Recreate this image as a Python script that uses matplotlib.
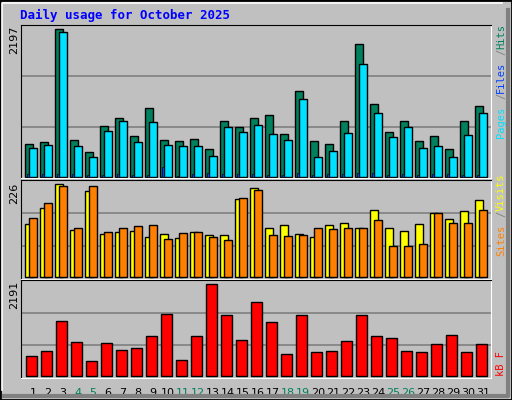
import numpy as np
import matplotlib
matplotlib.use('Agg')
import matplotlib.pyplot as plt
from matplotlib.patches import Rectangle

days = np.arange(1, 32)
weekend = [4, 5, 11, 12, 18, 19, 25, 26]

hits = [482, 512, 2197, 542, 363, 751, 870, 601, 1019, 542, 527, 557, 408, 825, 736, 870,
        915, 631, 1272, 527, 482, 825, 1973, 1079, 661, 825, 527, 601, 408, 825, 1049]
files = [423, 467, 2152, 452, 288, 676, 825, 512, 810, 467, 452, 452, 303, 736, 661, 765,
         631, 542, 1153, 288, 378, 646, 1675, 944, 587, 736, 423, 452, 288, 616, 944]
pages = [45, 45, 45, 45, 30, 30, 45, 30, 30, 140, 15, 45, 60, 45, 45, 45,
         30, 30, 50, 30, 45, 45, 60, 60, 30, 45, 30, 45, 45, 30, 30]
visits = [130, 167, 226, 113, 209, 104, 109, 111, 96, 104, 94, 109, 101, 101, 190, 216,
          118, 126, 104, 96, 126, 131, 118, 162, 118, 111, 128, 155, 141, 160, 187]
sites = [143, 179, 221, 120, 221, 109, 120, 123, 126, 91, 106, 109, 96, 89, 192, 211,
         101, 99, 101, 118, 116, 118, 118, 138, 74, 74, 79, 155, 131, 131, 162]
kbytes = [463, 583, 1303, 799, 344, 775, 607, 655, 943, 1471, 368, 943, 2191, 1447, 847, 1759,
          1279, 511, 1447, 559, 583, 823, 1447, 943, 895, 583, 559, 751, 967, 559, 751]

W, H = 512, 400
fig = plt.figure(figsize=(W / 100, H / 100), dpi=100, facecolor='#C0C0C0')

# frame / bevel
fig.patches.append(Rectangle((0, 0), 1, 1, transform=fig.transFigure, fill=False, edgecolor='black', lw=2))
fig.add_artist(plt.Line2D([2 / W, 2 / W, 1 - 10 / W], [10 / H, 1 - 3 / H, 1 - 3 / H], color='white', lw=1.2, transform=fig.transFigure))
fig.add_artist(plt.Line2D([4 / W, 1 - 4 / W, 1 - 4 / W], [4 / H, 4 / H, 1 - 10 / H], color='#808080', lw=3, transform=fig.transFigure))


def panel(top, bottom, ylim):
    x0, x1 = 20.7, 490.7
    ax = fig.add_axes([x0 / W, 1 - bottom / H, (x1 - x0) / W, (bottom - top) / H])
    ax.set_facecolor('#C0C0C0')
    ax.set_xlim(0.713, 32.05)
    ax.set_ylim(*ylim)
    for f in (1 / 3, 2 / 3):
        ax.plot([0, 1], [f, f], transform=ax.transAxes, color='#808080', lw=1.2, zorder=0)
    ax.set_xticks([])
    ax.set_yticks([])
    ax.spines['top'].set_color('black')
    ax.spines['left'].set_color('black')
    ax.spines['bottom'].set_color('white')
    ax.spines['right'].set_color('white')
    return ax


ax1 = panel(25, 178, (-19, 2261))
ax1.bar(days, hits, width=0.51, align='edge', color='#00805C', edgecolor='black', lw=1)
ax1.bar(days + 0.29, files, width=0.49, align='edge', color='#00E0FF', edgecolor='black', lw=1)
ax1.bar(days + 0.15, pages, width=0.13, align='edge', color='#0040FF', edgecolor='black', lw=0.5)

ax2 = panel(180, 279, (-5.6, 236.4))
ax2.bar(days + 0.02, visits, width=0.49, align='edge', color='#FFFF00', edgecolor='black', lw=1)
ax2.bar(days + 0.29, sites, width=0.49, align='edge', color='#FF8000', edgecolor='black', lw=1)

ax3 = panel(280, 378, (-55, 2294))
ax3.bar(days + 0.09, kbytes, width=0.69, align='edge', color='#FF0000', edgecolor='black', lw=1)

for d in days:
    ax3.text(d + 0.53, -0.1, str(d), transform=ax3.get_xaxis_transform(), ha='center', va='top',
             fontsize=8, color='#00805C' if d in weekend else 'black')

fig.text(20 / W, 1 - 15 / H, 'Daily usage for October 2025', color='#0000FF', fontsize=9,
         fontweight='bold', family='DejaVu Sans Mono', va='center')

fig.text(14 / W, 1 - 40 / H, str(max(hits)), rotation=90, fontsize=8, ha='center', va='center')
fig.text(14 / W, 1 - 193 / H, str(max(visits)), rotation=90, fontsize=8, ha='center', va='center')
fig.text(14 / W, 1 - 295 / H, str(max(kbytes)), rotation=90, fontsize=8, ha='center', va='center')

mono = dict(family='DejaVu Sans Mono', fontsize=7.5, rotation=90, ha='center', va='bottom')
x_r = 501 / W
fig.text(x_r, 1 - 138 / H, 'Pages', color='#00E0FF', **mono)
fig.text(x_r, 1 - 99 / H, '/', color='#808080', **mono)
fig.text(x_r, 1 - 93 / H, 'Files', color='#0040FF', **mono)
fig.text(x_r, 1 - 55 / H, '/', color='#808080', **mono)
fig.text(x_r, 1 - 49 / H, 'Hits', color='#00805C', **mono)
fig.text(x_r, 1 - 256 / H, 'Sites', color='#FF8000', **mono)
fig.text(x_r, 1 - 217 / H, '/', color='#808080', **mono)
fig.text(x_r, 1 - 211 / H, 'Visits', color='#FFFF00', **mono)
fig.text(x_r, 1 - 376 / H, 'kB F', color='#FF0000', **mono)

fig.savefig('out.png', dpi=100, facecolor=fig.get_facecolor())
